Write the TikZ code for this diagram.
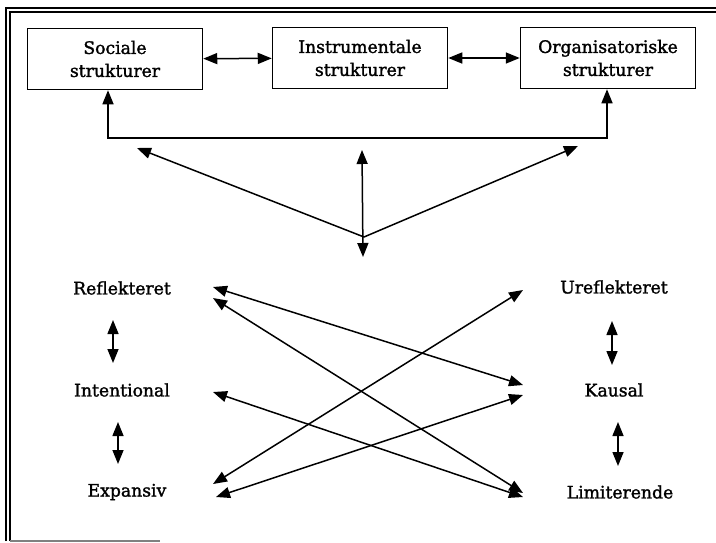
\documentclass[tikz,border=0pt]{standalone}
\usepackage{fontspec}
\setmainfont{DejaVu Serif}[BoldFont={DejaVu Serif},BoldFeatures={FakeBold=1.6}]
\usetikzlibrary{arrows.meta,calc}
\begin{document}
\begin{tikzpicture}[x=.5pt, y=-.5pt, line width=.75pt,
  box/.style={draw, minimum width=87.5pt, minimum height=30.5pt, align=center,
    font=\bfseries\fontsize{8.6}{11.5}\selectfont},
  lbl/.style={font=\bfseries\fontsize{8.6}{10}\selectfont},
  dbl/.style={{Triangle[length=7pt,width=5.5pt]}-{Triangle[length=7pt,width=5.5pt]}},
  one/.style={-{Triangle[length=7pt,width=5.5pt]}}]
  \useasboundingbox (0,0) rectangle (716,542);
  % frame
  \draw[line width=.8pt] (6,541) |- (716,8) (10,541) |- (716,12);
  \draw[gray, line width=.6pt] (10,541) -- (160,541);
  % structures
  \node[box] (soc) at (115,59) {Sociale\\strukturer};
  \node[box] (ins) at (360,58) {Instrumentale\\strukturer};
  \node[box] (org) at (608,58) {Organisatoriske\\strukturer};
  \draw[dbl] (soc) -- (ins);
  \draw[dbl] (ins) -- (org);
  \draw[dbl] ([xshift=-3.5pt]soc.south) |- ($(org)+(-1,80)$) -- ([xshift=-.5pt]org.south);
  \coordinate (hub) at (364,237);
  \draw[dbl] ($(ins)+(2,92)$) -- ($(ins)+(3,199)$);
  \draw[one] (hub) -- ($(soc)+(22,89)$);
  \draw[one] (hub) -- ($(org)+(-30,88)$);
  % modes
  \node[lbl] (ref) at (122,288) {Reflekteret};
  \node[lbl] (int) at (122,390) {Intentional};
  \node[lbl] (exp) at (127,492) {Expansiv};
  \node[lbl] (uref) at (614,287) {Ureflekteret};
  \node[lbl] (kau) at (614,390) {Kausal};
  \node[lbl] (lim) at (620,492) {Limiterende};
  \draw[dbl] ($(ref)+(-9,32)$) -- ($(int)+(-9,-27)$);
  \draw[dbl] ($(int)+(-4,32)$) -- ($(exp)+(-9,-28)$);
  \draw[dbl] ($(uref)+(-2,34)$) -- ($(kau)+(-2,-25)$);
  \draw[dbl] ($(kau)+(4,32)$) -- ($(lim)+(-2,-26)$);
  % crossing links
  \draw[dbl] ($(ref)+(91,-1)$) -- ($(kau)+(-91,-5)$);
  \draw[dbl] ($(ref)+(91,10)$) -- ($(lim)+(-97,1)$);
  \draw[dbl] ($(int)+(91,2)$) -- ($(lim)+(-97,5)$);
  \draw[dbl] ($(exp)+(86,-8)$) -- ($(uref)+(-91,3)$);
  \draw[dbl] ($(exp)+(89,5)$) -- ($(kau)+(-91,5)$);
\end{tikzpicture}
\end{document}
